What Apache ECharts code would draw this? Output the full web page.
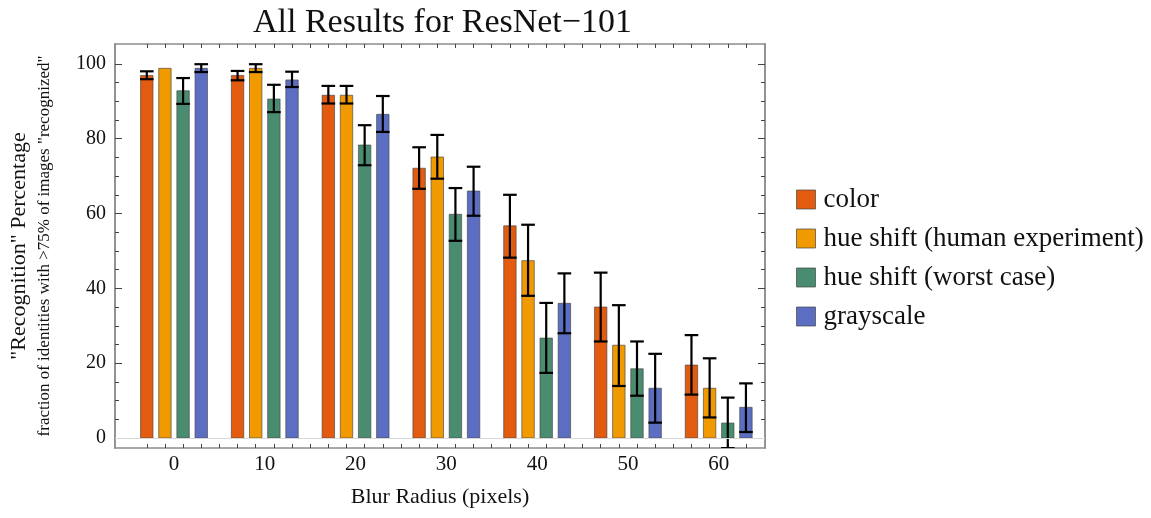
<!DOCTYPE html>
<html>
<head>
<meta charset="utf-8">
<script src="https://cdn.jsdelivr.net/npm/echarts@6/dist/echarts.min.js"></script>
<style>
	html, body {margin:0; padding:0; background:#fff;}
	#chart {width:1151px; height:518px;}
</style>
</head>
<body>
<div id="chart"></div>
<script>
// blur radius groups
var radius = [0, 10, 20, 30, 40, 50, 60];
var seriesNames = ['color', 'hue shift (human experiment)', 'hue shift (worst case)', 'grayscale'];

// bar values and error bar ends
var colorVal = [96.9, 96.9, 91.6, 72.1, 56.7, 35.0, 19.5];
var colorLo  = [95.9, 95.6, 89.4, 66.6, 48.2, 25.8, 11.6];
var colorHi  = [98.0, 98.1, 94.1, 77.7, 65.0, 44.2, 27.5];

var humanVal = [98.8, 98.8, 91.6, 75.1, 47.4, 24.8, 13.3];
var humanLo  = [null, 97.8, 89.4, 69.3, 38.0, 13.9, 5.5];
var humanHi  = [null, 99.9, 94.1, 81.0, 57.0, 35.5, 21.3];

var worstVal = [92.8, 90.6, 78.3, 59.8, 26.7, 18.5, 4.0];
var worstLo  = [89.3, 87.1, 72.9, 52.7, 17.4, 11.3, -2.7];
var worstHi  = [96.2, 94.4, 83.6, 66.8, 36.1, 25.8, 10.8];

var grayVal  = [98.8, 95.7, 86.5, 66.0, 36.0, 13.3, 8.2];
var grayLo   = [97.8, 93.8, 81.8, 59.4, 28.0, 4.1, 1.6];
var grayHi   = [99.9, 97.9, 91.4, 72.5, 44.0, 22.5, 14.6];

// tick labels
var xLabels = [0, 10, 20, 30, 40, 50, 60];
var yLabels = [0, 20, 40, 60, 80, 100];

var colors = ['#E35B0E', '#F09A00', '#4A8C70', '#5C6EC2'];
var slotOffset = [-3, -1, 1, 3];   // bar slots inside a group (blur units)
var barW = 1.37;
var capW = 1.5;
var FONT = 'Liberation Serif';

var xTicks = [];
for (var t = -3; t <= 63; t += 2) xTicks.push(t);
var yMajor = [0, 20, 40, 60, 80, 100];
var yMinor = [];
for (var m = 0; m <= 100; m += 5) yMinor.push(m);

function buildData(vals, lo, hi, si) {
	var out = [];
	for (var i = 0; i < radius.length; i++) {
		out.push([radius[i] + slotOffset[si], vals[i], lo[i], hi[i]]);
	}
	return out;
}

function renderBar(params, api) {
	var x = api.value(0);
	var v = api.value(1);
	var base = api.coord([x, 0]);
	var top = api.coord([x, v]);
	var w = api.size([barW, 0])[0];
	var cw = api.size([capW, 0])[0];
	var children = [{
		type: 'rect',
		shape: {x: top[0] - w / 2, y: top[1], width: w, height: base[1] - top[1]},
		style: {fill: api.visual('color'), stroke: 'rgba(70,70,70,0.65)', lineWidth: 1}
	}];
	var lo = api.value(2), hi = api.value(3);
	if (!isNaN(lo) && !isNaN(hi) && lo !== hi) {
		var pLo = api.coord([x, lo]);
		var pHi = api.coord([x, hi]);
		var ls = {stroke: '#000', lineWidth: 2.2};
		children.push({type: 'line', shape: {x1: pLo[0], y1: pLo[1], x2: pHi[0], y2: pHi[1]}, style: ls});
		children.push({type: 'line', shape: {x1: pLo[0] - cw / 2, y1: pLo[1], x2: pLo[0] + cw / 2, y2: pLo[1]}, style: ls});
		children.push({type: 'line', shape: {x1: pHi[0] - cw / 2, y1: pHi[1], x2: pHi[0] + cw / 2, y2: pHi[1]}, style: ls});
	}
	return {type: 'group', children: children};
}

var allData = [
	buildData(colorVal, colorLo, colorHi, 0),
	buildData(humanVal, humanLo, humanHi, 1),
	buildData(worstVal, worstLo, worstHi, 2),
	buildData(grayVal, grayLo, grayHi, 3)
];

var series = [];
for (var s = 0; s < 4; s++) {
	series.push({
		name: seriesNames[s],
		type: 'custom',
		renderItem: renderBar,
		clip: true,
		itemStyle: {color: colors[s]},
		encode: {x: 0, y: 1},
		data: allData[s],
		markLine: s === 0 ? {
			silent: true,
			symbol: 'none',
			label: {show: false},
			lineStyle: {color: '#d8d8d8', width: 1, type: 'solid'},
			data: [{yAxis: 0}]
		} : undefined
	});
}

var frameLine = {show: true, onZero: false, lineStyle: {color: '#8c8c8c', width: 1.5}};
var tickStyle = {color: '#444', width: 1};

function xAxisDef(pos, showLabel) {
	return {
		type: 'value', position: pos, min: -6.5, max: 65.1,
		splitLine: {show: false},
		axisLine: frameLine,
		axisTick: {show: true, inside: true, length: 4, lineStyle: tickStyle, customValues: xTicks},
		axisLabel: {show: showLabel, customValues: xLabels, fontFamily: FONT, fontSize: 21, color: '#111', margin: 6},
		name: showLabel ? 'Blur Radius (pixels)' : '',
		nameLocation: 'middle',
		nameGap: 38,
		nameTextStyle: {fontFamily: FONT, fontSize: 22, color: '#111'}
	};
}

function yAxisDef(pos, ticks, len, showLabel) {
	var d = {
		type: 'value', position: pos, min: -2.67, max: 105.3, offset: 0,
		splitLine: {show: false},
		axisLine: frameLine,
		axisTick: {show: true, inside: true, length: len, lineStyle: tickStyle, customValues: ticks},
		axisLabel: {show: showLabel, customValues: yLabels, fontFamily: FONT, fontSize: 20, color: '#111', margin: 9}
	};
	if (showLabel) {
		d.name = '{a|"Recognition" Percentage}\n{b|fraction of identities with >75% of images "recognized"}';
		d.nameLocation = 'middle';
		d.nameGap = 58;
		d.nameTextStyle = {
			fontFamily: FONT, color: '#111', align: 'center',
			rich: {
				a: {fontFamily: FONT, fontSize: 22, color: '#111', lineHeight: 28},
				b: {fontFamily: FONT, fontSize: 17, color: '#111', lineHeight: 24}
			}
		};
	}
	return d;
}

var myChart = echarts.init(document.getElementById('chart'), null, {renderer: 'canvas'});
myChart.setOption({
	animation: false,
	backgroundColor: '#fff',
	title: {
		text: 'All Results for ResNet\u2212101',
		left: 248, top: 1,
		textStyle: {fontFamily: FONT, fontSize: 34, fontWeight: 'normal', color: '#111'}
	},
	legend: {
		orient: 'vertical',
		left: 791, top: 181,
		itemWidth: 19, itemHeight: 19,
		itemGap: 12,
		icon: 'rect',
		itemStyle: {borderColor: 'rgba(70,70,70,0.7)', borderWidth: 1},
		textStyle: {fontFamily: FONT, fontSize: 27, color: '#111', lineHeight: 27, padding: [0, 0, 0, 3]},
		data: seriesNames
	},
	grid: {left: 112.5, right: 386, top: 44, bottom: 70},
	xAxis: [xAxisDef('bottom', true), xAxisDef('top', false)],
	yAxis: [
		yAxisDef('left', yMajor, 7, true),
		yAxisDef('left', yMinor, 4, false),
		yAxisDef('right', yMajor, 7, false),
		yAxisDef('right', yMinor, 4, false)
	],
	series: series
});
</script>
</body>
</html>
